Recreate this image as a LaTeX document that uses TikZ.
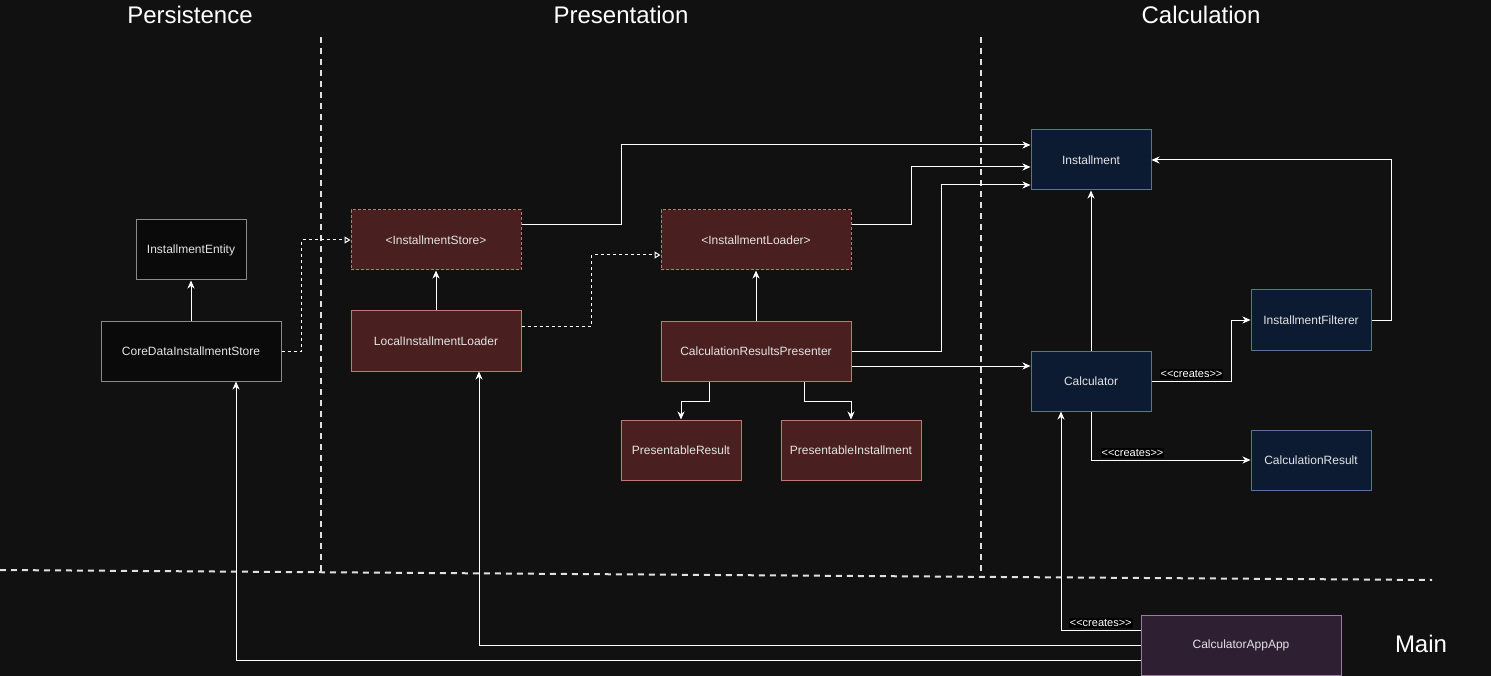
\documentclass[tikz,border=0pt]{standalone}
\usepackage{fontspec}
\setmainfont{Liberation Sans}
\usepackage{tikz}
\usetikzlibrary{positioning}
\usetikzlibrary{arrows.meta}

\definecolor{bgdark}{HTML}{111111}
\definecolor{plainfill}{HTML}{0A0A0A}
\definecolor{plainline}{HTML}{8A8A8A}
\definecolor{redfill}{HTML}{4A1F1F}
\definecolor{redline}{HTML}{BC7A72}
\definecolor{bluefill}{HTML}{0C1A32}
\definecolor{blueline}{HTML}{5A7398}
\definecolor{mainfill}{HTML}{2E1F33}
\definecolor{mainline}{HTML}{9A7BA4}
\definecolor{boxtext}{HTML}{E4E4E4}

\begin{document}
\begin{tikzpicture}[x=1pt,y=-1pt,->,>={Stealth[length=8pt,width=7pt,inset=2.5pt]},
                    line width=1pt,node distance=40pt,
                    class node/.style={rectangle,draw,minimum height=60pt,inner sep=0pt,
                      text=boxtext,font=\fontsize{12}{14}\selectfont},
                    plain node/.style={class node,fill=plainfill,draw=plainline},
                    port node/.style={class node,fill=redfill,draw=redline,dash pattern=on 3pt off 2pt},
                    red node/.style={class node,fill=redfill,draw=redline},
                    blue node/.style={class node,fill=bluefill,draw=blueline},
                    main node/.style={class node,fill=mainfill,draw=mainline},
                    conn/.style={draw=white},
                    realize/.style={draw=white,dash pattern=on 3pt off 3pt,
                      -{Triangle[open,length=6pt,width=7pt,fill=bgdark]}},
                    creates/.style={fill=black,text=white,inner sep=1pt,
                      font=\fontsize{11}{13}\selectfont},
                    layer title/.style={text=white,font=\fontsize{24}{28}\selectfont},
                    separator/.style={-,draw=white!88!black,line width=2pt,dash pattern=on 6pt off 5pt}]

  % canvas
  \useasboundingbox (0,0) rectangle (1491,676);
  \fill[bgdark] (0,0) rectangle (1491,676);

  % layers
  \node[layer title] (persist) at (190,15) {Persistence};
  \node[layer title] (present) at (621,15) {Presentation};
  \node[layer title] (calcl) at (1201,15) {Calculation};
  \node[layer title] (mainl) at (1421,644) {Main};

  \draw[separator] (321,37) -- (321,572);
  \draw[separator] (981,37) -- (981,572);
  \draw[separator] (0,570) -- (1432,580);

  % persistence
  \node[plain node,minimum width=110pt] (entity) at (191,250) {InstallmentEntity};
  \node[plain node,minimum width=180pt] (coredata) [below=40pt of entity] {CoreDataInstallmentStore};

  % presentation
  \node[port node,minimum width=170pt] (store) at (436,240) {<InstallmentStore>};
  \node[red node,minimum width=170pt] (local) [below=40pt of store] {LocalInstallmentLoader};
  \node[port node,minimum width=190pt] (loader) at (756,240) {<InstallmentLoader>};
  \node[red node,minimum width=190pt] (presenter) [below=50pt of loader] {CalculationResultsPresenter};
  \node[red node,minimum width=120pt] (presresult) at (681,450) {PresentableResult};
  \node[red node,minimum width=140pt] (presinst) at (851,450) {PresentableInstallment};

  % calculation
  \node[blue node,minimum width=120pt] (installment) at (1091,160) {Installment};
  \node[blue node,minimum width=120pt] (calculator) [below=160pt of installment] {Calculator};
  \node[blue node,minimum width=120pt] (filterer) at (1311,320) {InstallmentFilterer};
  \node[blue node,minimum width=120pt] (result) at (1311,460) {CalculationResult};

  % main
  \node[main node,minimum width=200pt] (app) at (1241,645) {CalculatorAppApp};

  \path[white]
    (coredata) edge (entity)
    (local) edge (store)
    (presenter) edge (loader)
    (calculator) edge (installment)
    ([yshift=-15pt]presenter.east) edge ([yshift=15pt]calculator.west);

  \draw[realize] (coredata.east) -- ++(20,0) |- (store.west);
  \draw[realize] ([yshift=15pt]local.east) -- ++(70,0) |- ([yshift=-15pt]loader.west);

  \draw[conn] ([yshift=15pt]store.east) -- ++(100,0) |- ([yshift=15pt]installment.west);
  \draw[conn] ([yshift=15pt]loader.east) -- ++(60,0) |- ([yshift=-7pt]installment.west);
  \draw[conn] (presenter.east) -- ++(90,0) |- ([yshift=-25pt]installment.west);

  \draw[conn] ([xshift=-47pt]presenter.south) -- ++(0,20) -| (presresult.north);
  \draw[conn] ([xshift=48pt]presenter.south) -- ++(0,20) -| (presinst.north);

  \draw[conn] (calculator.east) -- ++(80,0) node[creates,midway,above=2pt] {<{}<creates>{}>}
    |- (filterer.west);
  \draw[conn] (filterer.east) -- ++(20,0) |- (installment.east);
  \draw[conn] (calculator.south) |- node[creates,pos=0.63,above=2pt] {<{}<creates>{}>} (result.west);

  \draw[conn] ([yshift=15pt]app.west) -| node[creates,pos=0.25,above=2pt] {<{}<creates>{}>}
    ([xshift=-30pt]calculator.south);
  \draw[conn] (app.west) -| ([xshift=43pt]local.south);
  \draw[conn] ([yshift=-15pt]app.west) -| ([xshift=45pt]coredata.south);
\end{tikzpicture}
\end{document}
